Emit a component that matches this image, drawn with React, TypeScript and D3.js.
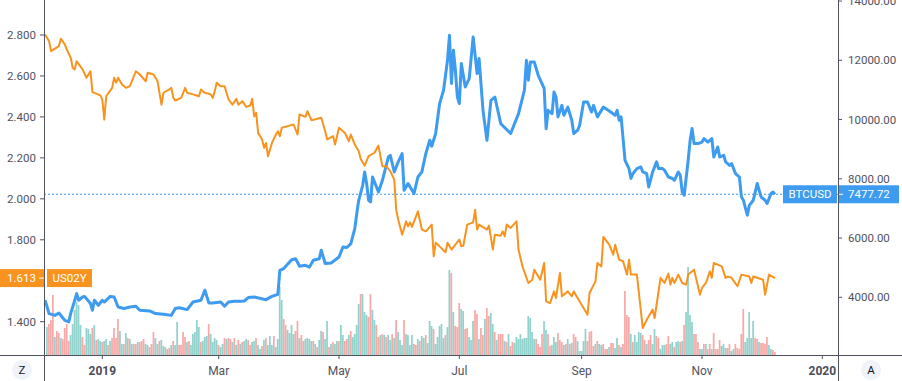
import React from "react";
import * as d3 from "d3";

// ---------- DATA ----------
const BTC_DATES = [
  "2018-12-03","2018-12-05","2018-12-08","2018-12-10","2018-12-13","2018-12-15","2018-12-16","2018-12-17","2018-12-19","2018-12-20",
  "2018-12-22","2018-12-23","2018-12-26","2018-12-27","2018-12-28","2018-12-30","2019-01-01","2019-01-02","2019-01-05","2019-01-07",
  "2019-01-09","2019-01-12","2019-01-15","2019-01-18","2019-01-20","2019-01-25","2019-01-28","2019-02-01","2019-02-05","2019-02-07",
  "2019-02-09","2019-02-13","2019-02-16","2019-02-20","2019-02-22","2019-02-24","2019-02-26","2019-03-02","2019-03-04","2019-03-06",
  "2019-03-09","2019-03-12","2019-03-14","2019-03-16","2019-03-19","2019-03-25","2019-03-28","2019-03-31","2019-04-01","2019-04-03",
  "2019-04-04","2019-04-07","2019-04-09","2019-04-11","2019-04-14","2019-04-16","2019-04-18","2019-04-21","2019-04-22","2019-04-24",
  "2019-04-27","2019-05-01","2019-05-03","2019-05-05","2019-05-07","2019-05-09","2019-05-10","2019-05-11","2019-05-13","2019-05-14",
  "2019-05-15","2019-05-16","2019-05-17","2019-05-18","2019-05-21","2019-05-23","2019-05-26","2019-05-27","2019-05-29","2019-05-31",
  "2019-06-02","2019-06-03","2019-06-05","2019-06-08","2019-06-10","2019-06-12","2019-06-14","2019-06-16","2019-06-17","2019-06-19",
  "2019-06-21","2019-06-23","2019-06-25","2019-06-26","2019-06-27","2019-06-28","2019-06-29","2019-06-30","2019-07-01","2019-07-02",
  "2019-07-04","2019-07-06","2019-07-08","2019-07-10","2019-07-11","2019-07-13","2019-07-15","2019-07-17","2019-07-19","2019-07-22",
  "2019-07-27","2019-07-31","2019-08-03","2019-08-04","2019-08-05","2019-08-06","2019-08-08","2019-08-10","2019-08-13","2019-08-14",
  "2019-08-15","2019-08-17","2019-08-18","2019-08-19","2019-08-20","2019-08-22","2019-08-23","2019-08-25","2019-08-27","2019-08-28",
  "2019-08-30","2019-08-31","2019-09-02","2019-09-04","2019-09-06","2019-09-07","2019-09-09","2019-09-12","2019-09-15","2019-09-18",
  "2019-09-19","2019-09-20","2019-09-21","2019-09-23","2019-09-25","2019-09-26","2019-09-27","2019-09-29","2019-10-01","2019-10-02",
  "2019-10-04","2019-10-05","2019-10-07","2019-10-09","2019-10-10","2019-10-12","2019-10-13","2019-10-15","2019-10-17","2019-10-18",
  "2019-10-20","2019-10-21","2019-10-22","2019-10-23","2019-10-25","2019-10-26","2019-10-27","2019-10-28","2019-10-30","2019-11-01",
  "2019-11-02","2019-11-04","2019-11-06","2019-11-07","2019-11-09","2019-11-10","2019-11-12","2019-11-13","2019-11-15","2019-11-16",
  "2019-11-18","2019-11-20","2019-11-21","2019-11-22","2019-11-24","2019-11-25","2019-11-27","2019-11-29","2019-11-30","2019-12-01",
  "2019-12-03","2019-12-04","2019-12-06","2019-12-07","2019-12-08"
];
const BTC_CLOSE = [
  3900,3450,3390,3470,3220,3170,3460,3670,4125,3900,
  4010,4030,3790,3560,3900,3730,3900,3840,4030,4010,
  3670,3620,3670,3700,3560,3540,3450,3430,3390,3620,
  3650,3585,3840,3900,4240,3810,3810,3840,3700,3840,
  3865,3865,3875,3990,4010,3920,4030,4100,4910,4970,
  5050,5270,5300,5050,5080,5020,5250,5300,5590,5140,
  5160,5360,5700,5680,5810,6320,6830,7275,7780,8230,
  7840,7275,7220,8060,7555,7950,8735,8795,8230,8570,
  8850,7610,7840,7500,8060,8230,8850,9300,9100,9530,
  10540,10990,12000,12845,11215,12340,11660,10760,10540,11890,
  11100,11380,12790,11550,12060,10310,9300,10650,10760,9860,
  9530,10200,10990,12000,11330,11940,11940,11490,11050,9690,
  10310,10200,10930,10760,10090,10480,10145,10420,9975,9525,
  9640,9810,10590,10590,10255,10480,10090,10420,10290,10145,
  10310,9975,10090,8620,8345,8015,8175,8345,8400,8230,
  8175,7725,8230,8570,8345,8345,8290,8060,8010,7950,
  8230,8120,7555,7445,8625,9300,9695,9190,9190,9240,
  9355,9240,9355,8735,9075,8735,8795,8570,8455,8515,
  8175,8060,7385,7275,6770,7105,7275,7840,7610,7385,
  7275,7165,7500,7555,7477.72
];

const US02Y_DATES = [
  "2018-12-03","2018-12-05","2018-12-06","2018-12-10","2018-12-11","2018-12-13","2018-12-14","2018-12-16","2018-12-17","2018-12-18",
  "2018-12-19","2018-12-22","2018-12-24","2018-12-26","2018-12-27","2018-12-31","2019-01-01","2019-01-02","2019-01-03","2019-01-06",
  "2019-01-07","2019-01-08","2019-01-09","2019-01-11","2019-01-13","2019-01-15","2019-01-18","2019-01-20","2019-01-23","2019-01-24",
  "2019-01-27","2019-01-29","2019-01-31","2019-02-01","2019-02-04","2019-02-05","2019-02-06","2019-02-07","2019-02-10","2019-02-12",
  "2019-02-13","2019-02-16","2019-02-19","2019-02-20","2019-02-22","2019-02-25","2019-02-26","2019-02-27","2019-02-28","2019-03-02",
  "2019-03-04","2019-03-06","2019-03-08","2019-03-10","2019-03-11","2019-03-13","2019-03-15","2019-03-17","2019-03-18","2019-03-19",
  "2019-03-20","2019-03-21","2019-03-23","2019-03-24","2019-03-25","2019-03-26","2019-03-28","2019-03-30","2019-03-31","2019-04-01",
  "2019-04-02","2019-04-05","2019-04-08","2019-04-10","2019-04-11","2019-04-14","2019-04-15","2019-04-17","2019-04-22","2019-04-24",
  "2019-04-25","2019-04-28","2019-04-29","2019-05-01","2019-05-04","2019-05-06","2019-05-07","2019-05-09","2019-05-11","2019-05-12",
  "2019-05-14","2019-05-16","2019-05-19","2019-05-21","2019-05-22","2019-05-23","2019-05-25","2019-05-27","2019-05-29","2019-05-30",
  "2019-05-31","2019-06-02","2019-06-04","2019-06-05","2019-06-06","2019-06-07","2019-06-10","2019-06-12","2019-06-14","2019-06-17",
  "2019-06-18","2019-06-19","2019-06-21","2019-06-24","2019-06-25","2019-06-27","2019-07-01","2019-07-02","2019-07-03","2019-07-05",
  "2019-07-08","2019-07-09","2019-07-10","2019-07-11","2019-07-15","2019-07-16","2019-07-18","2019-07-19","2019-07-22","2019-07-23",
  "2019-07-24","2019-07-25","2019-07-27","2019-07-30","2019-07-31","2019-08-02","2019-08-05","2019-08-07","2019-08-08","2019-08-10",
  "2019-08-11","2019-08-13","2019-08-14","2019-08-16","2019-08-18","2019-08-19","2019-08-21","2019-08-22","2019-08-25","2019-08-27",
  "2019-08-28","2019-08-31","2019-09-04","2019-09-05","2019-09-08","2019-09-09","2019-09-11","2019-09-12","2019-09-15","2019-09-17",
  "2019-09-18","2019-09-20","2019-09-22","2019-09-24","2019-09-25","2019-09-26","2019-09-29","2019-10-02","2019-10-04","2019-10-07",
  "2019-10-08","2019-10-11","2019-10-13","2019-10-15","2019-10-16","2019-10-17","2019-10-18","2019-10-20","2019-10-22","2019-10-24",
  "2019-10-25","2019-10-28","2019-10-31","2019-11-01","2019-11-03","2019-11-05","2019-11-06","2019-11-07","2019-11-11","2019-11-13",
  "2019-11-14","2019-11-16","2019-11-19","2019-11-21","2019-11-25","2019-11-26","2019-11-27","2019-12-02","2019-12-03","2019-12-05",
  "2019-12-08"
];
const US02Y_YIELD = [
  2.803,2.770,2.721,2.746,2.782,2.754,2.729,2.689,2.640,2.632,
  2.672,2.632,2.591,2.623,2.521,2.505,2.485,2.387,2.501,2.542,
  2.591,2.567,2.591,2.558,2.542,2.550,2.623,2.607,2.574,2.616,
  2.607,2.574,2.460,2.518,2.534,2.542,2.493,2.480,2.493,2.542,
  2.518,2.510,2.501,2.534,2.518,2.510,2.493,2.526,2.567,2.550,
  2.550,2.485,2.460,2.488,2.460,2.477,2.449,2.456,2.488,2.403,
  2.420,2.322,2.290,2.249,2.273,2.208,2.273,2.314,2.330,2.306,
  2.347,2.355,2.363,2.314,2.412,2.400,2.428,2.384,2.396,2.330,
  2.290,2.306,2.265,2.347,2.322,2.281,2.314,2.265,2.232,2.195,
  2.162,2.208,2.225,2.260,2.208,2.159,2.159,2.135,2.094,1.947,
  1.899,1.825,1.890,1.866,1.885,1.863,1.939,1.850,1.841,1.874,
  1.719,1.785,1.768,1.739,1.785,1.752,1.801,1.768,1.771,1.874,
  1.885,1.947,1.850,1.874,1.850,1.869,1.752,1.825,1.820,1.841,
  1.817,1.874,1.858,1.890,1.752,1.670,1.589,1.605,1.654,1.621,
  1.605,1.687,1.499,1.491,1.548,1.516,1.638,1.524,1.548,1.524,
  1.548,1.499,1.434,1.540,1.597,1.687,1.670,1.814,1.776,1.727,
  1.776,1.703,1.695,1.630,1.703,1.630,1.630,1.369,1.410,1.459,
  1.418,1.614,1.589,1.635,1.581,1.614,1.589,1.630,1.589,1.581,
  1.630,1.654,1.532,1.565,1.589,1.646,1.614,1.687,1.670,1.614,
  1.621,1.614,1.573,1.630,1.621,1.589,1.621,1.605,1.532,1.630,
  1.613
];

// Daily BTC volume (thousands), first bar on VOLUME_START, one bar per day
const VOLUME_START = "2018-12-04";
const VOLUME = [
  28,31,35,60,18,24,22,17,16,27,31,14,20,31,45,53,50,30,18,10,
  27,26,21,27,30,15,16,14,13,14,16,10,14,17,27,17,36,24,11,11,
  22,17,16,11,11,11,13,13,14,16,11,10,8,11,23,17,11,14,15,9,8,
  6,7,10,14,10,33,10,10,23,18,13,14,10,21,23,35,28,13,14,18,
  19,31,21,13,17,15,10,8,11,17,16,17,16,13,17,10,15,11,13,14,
  16,15,10,13,14,17,10,6,9,15,17,10,19,10,19,8,16,68,55,36,
  30,25,22,30,21,24,34,17,20,14,16,17,16,14,14,11,8,15,24,23,
  16,34,8,11,13,11,14,14,30,20,14,16,20,24,18,21,30,51,61,61,43,
  40,38,61,45,35,30,18,20,21,20,18,20,15,21,17,35,23,15,10,35,21,20,10,20,
  11,10,16,14,19,17,20,12,34,29,26,11,18,29,31,17,20,28,85,82,
  43,29,28,52,46,44,26,27,18,15,34,45,41,16,27,20,36,47,39,42,
  31,23,15,21,21,21,14,13,21,9,13,12,18,16,21,16,17,17,39,37,
  23,16,16,11,8,21,34,25,21,9,10,18,13,22,15,13,10,11,16,11,12,
  21,18,14,4,4,14,26,14,23,24,9,11,14,11,10,11,6,6,8,12,
  12,7,17,10,8,11,64,40,38,21,13,20,13,23,22,20,15,11,15,20,
  11,26,19,17,6,10,10,11,19,11,13,8,13,14,13,14,30,43,88,40,
  33,21,21,13,6,6,11,11,6,11,6,22,6,6,15,9,11,7,7,11,4,
  6,11,7,6,21,46,13,17,43,17,34,17,16,13,12,12,11,18,10,6,5,3
];
// 1 = up day (teal), 0 = down day (red)
const VOLUME_UP = [
  1,0,0,0,1,0,0,1,0,0,0,0,1,1,1,1,1,1,0,0,
  1,1,1,0,1,0,1,1,0,1,1,0,1,0,0,0,0,1,1,0,
  1,0,1,1,0,0,1,0,0,0,1,1,0,0,0,1,1,0,1,1,1,
  0,0,1,0,1,1,0,0,0,0,1,0,1,1,1,1,1,0,1,1,
  1,0,1,1,1,1,0,1,1,0,1,0,0,1,0,1,0,1,0,1,
  1,0,0,1,1,0,1,1,0,1,0,1,1,1,0,1,1,1,1,0,
  0,1,1,1,1,0,0,1,0,0,1,1,1,1,0,1,0,1,1,0,
  1,1,0,1,0,1,1,0,1,1,0,0,1,0,1,1,1,1,0,1,1,
  1,0,0,1,1,0,0,1,0,1,0,1,1,0,1,0,1,1,1,0,1,1,1,1,
  0,0,1,0,1,1,0,1,1,1,0,1,1,1,1,1,0,1,1,0,
  1,0,0,0,1,1,0,0,1,1,1,0,0,1,0,0,1,0,0,1,
  1,0,1,0,0,0,1,0,1,0,0,1,1,1,1,1,1,1,1,1,
  1,1,0,0,0,0,1,1,0,0,1,1,1,0,0,0,1,0,1,0,1,
  0,0,1,1,1,1,1,0,0,0,0,1,0,1,1,0,0,0,1,0,
  0,1,1,0,1,0,0,0,0,1,0,1,1,1,1,0,0,1,0,0,
  1,1,0,0,1,1,1,0,0,1,1,0,1,1,0,1,0,1,1,1,
  1,0,0,0,1,1,0,1,0,0,1,0,0,0,0,1,1,1,0,0,1,
  1,0,0,0,0,0,1,1,1,1,1,0,0,1,0,0,0,0,1,1,0,0
];

const LEFT_TICKS = [2.8, 2.6, 2.4, 2.2, 2.0, 1.8, 1.4];
const RIGHT_TICKS = [4000, 6000, 8000, 10000, 12000, 14000];
const TIME_TICKS = ["2019-01-01", "2019-03-01", "2019-05-01", "2019-07-01", "2019-09-01", "2019-11-01", "2020-01-01"];
const TIME_LABELS = ["2019", "Mar", "May", "Jul", "Sep", "Nov", "2020"];
const YEAR_LABEL = [true, false, false, false, false, false, true];

const BTC_SYMBOL = "BTCUSD";
const US02Y_SYMBOL = "US02Y";

// ---------- CHART ----------
const parse = (s: string) => new Date(s + "T00:00:00Z");

export default function App() {
  const W = 902, H = 381;
  const axL = 44, axR = 838, axB = 355;
  const font = "Roboto, 'Noto Sans', sans-serif";
  const axisColor = "#50535e";
  const textColor = "#50535e";
  const blue = "#3d9bf0";
  const orange = "#f7931e";

  const x = d3.scaleUtc().domain([parse("2019-01-01"), parse("2020-01-01")]).range([102.3, 822.3]);
  const yL = d3.scaleLinear().domain([1.4, 2.8]).range([321.7, 35]);
  const yR = d3.scaleLinear().domain([4000, 14000]).range([297.3, 1.05]);
  const yV = d3.scaleLinear().domain([0, 100]).range([axB, axB - 100]);

  type P = { t: Date; v: number };
  const btc: P[] = BTC_DATES.map((d, i) => ({ t: parse(d), v: BTC_CLOSE[i] }));
  const us: P[] = US02Y_DATES.map((d, i) => ({ t: parse(d), v: US02Y_YIELD[i] }));
  const lineR = d3.line<P>().x((d) => x(d.t)).y((d) => yR(d.v));
  const lineL = d3.line<P>().x((d) => x(d.t)).y((d) => yL(d.v));

  const vStart = parse(VOLUME_START);
  const bw = x(d3.utcDay.offset(vStart, 1)) - x(vStart);

  const lastBtc = BTC_CLOSE[BTC_CLOSE.length - 1];
  const lastUs = US02Y_YIELD[US02Y_YIELD.length - 1];
  const yBtc = yR(lastBtc);
  const yUs = yL(lastUs);

  return (
    <svg width={W} height={H} style={{ position: "fixed", left: 0, top: 0, background: "#fff" }} fontFamily={font}>
      <defs>
        <clipPath id="plot">
          <rect x={axL} y={0} width={axR - axL} height={axB} />
        </clipPath>
      </defs>
      <rect x={0} y={0} width={W} height={H} fill="#fff" />

      <g clipPath="url(#plot)">
        {VOLUME.map((v, i) => {
          const t = d3.utcDay.offset(vStart, i);
          return (
            <rect
              key={i}
              x={x(t) - bw / 2}
              y={yV(v)}
              width={bw - 0.25}
              height={axB - yV(v)}
              fill={VOLUME_UP[i] ? "rgba(38,166,154,0.5)" : "rgba(239,83,80,0.5)"}
            />
          );
        })}
        <line x1={axL} x2={axR} y1={yBtc} y2={yBtc} stroke={blue} strokeWidth={1} strokeDasharray="2 2" />
        <path d={lineR(btc) || ""} fill="none" stroke={blue} strokeWidth={3} strokeLinejoin="round" />
        <path d={lineL(us) || ""} fill="none" stroke={orange} strokeWidth={2} strokeLinejoin="round" />
      </g>

      {/* axes lines */}
      <line x1={axL + 0.5} x2={axL + 0.5} y1={0} y2={H} stroke={axisColor} strokeWidth={1} />
      <line x1={axR + 0.5} x2={axR + 0.5} y1={0} y2={H} stroke={axisColor} strokeWidth={1} />
      <line x1={0} x2={W} y1={axB + 0.5} y2={axB + 0.5} stroke={axisColor} strokeWidth={1} />

      {/* left axis */}
      {LEFT_TICKS.map((v) => (
        <g key={v}>
          <line x1={axL - 4} x2={axL} y1={yL(v)} y2={yL(v)} stroke={axisColor} />
          <text x={36} y={yL(v)} textAnchor="end" dominantBaseline="central" fontSize={11.5} fill={textColor}>
            {d3.format(".3f")(v)}
          </text>
        </g>
      ))}

      {/* right axis */}
      {RIGHT_TICKS.map((v) => (
        <g key={v}>
          <line x1={axR} x2={axR + 4} y1={yR(v)} y2={yR(v)} stroke={axisColor} />
          <text x={848} y={yR(v)} dominantBaseline="central" fontSize={11.5} fill={textColor}>
            {d3.format(".2f")(v)}
          </text>
        </g>
      ))}

      {/* time axis */}
      {TIME_TICKS.map((d, i) => {
        const px = x(parse(d));
        return (
          <g key={d}>
            <line x1={px} x2={px} y1={axB} y2={axB + 4} stroke={axisColor} />
            <text
              x={px}
              y={371}
              textAnchor="middle"
              dominantBaseline="central"
              fontSize={12}
              fontWeight={YEAR_LABEL[i] ? 700 : 400}
              fill={YEAR_LABEL[i] ? "#4a4e58" : textColor}
            >
              {TIME_LABELS[i]}
            </text>
          </g>
        );
      })}

      {/* BTC last-price labels */}
      <rect x={783} y={yBtc - 9} width={54} height={18} fill={blue} />
      <text x={810} y={yBtc} textAnchor="middle" dominantBaseline="central" fontSize={11.5} fill="#fff">
        {BTC_SYMBOL}
      </text>
      <rect x={axR + 1} y={yBtc - 9} width={60} height={18} fill={blue} />
      <line x1={axR + 1} x2={axR + 5} y1={yBtc} y2={yBtc} stroke="#fff" />
      <text x={848} y={yBtc} dominantBaseline="central" fontSize={11.5} fill="#fff">
        {d3.format(".2f")(lastBtc)}
      </text>

      {/* US02Y last-value labels */}
      <rect x={0} y={yUs - 9} width={axL} height={18} fill={orange} />
      <line x1={axL - 5} x2={axL} y1={yUs} y2={yUs} stroke="#fff" />
      <text x={36} y={yUs} textAnchor="end" dominantBaseline="central" fontSize={11.5} fill="#fff">
        {d3.format(".3f")(lastUs)}
      </text>
      <rect x={47} y={yUs - 9} width={45} height={18} fill={orange} />
      <text x={69.5} y={yUs} textAnchor="middle" dominantBaseline="central" fontSize={11.5} fill="#fff">
        {US02Y_SYMBOL}
      </text>

      {/* corner buttons */}
      <circle cx={22} cy={370} r={10} fill="#f0f3fa" />
      <text x={22} y={370} textAnchor="middle" dominantBaseline="central" fontSize={11.5} fill="#131722">Z</text>
      <circle cx={871} cy={370} r={10} fill="#f0f3fa" />
      <text x={871} y={370} textAnchor="middle" dominantBaseline="central" fontSize={11.5} fill="#131722">A</text>
    </svg>
  );
}
